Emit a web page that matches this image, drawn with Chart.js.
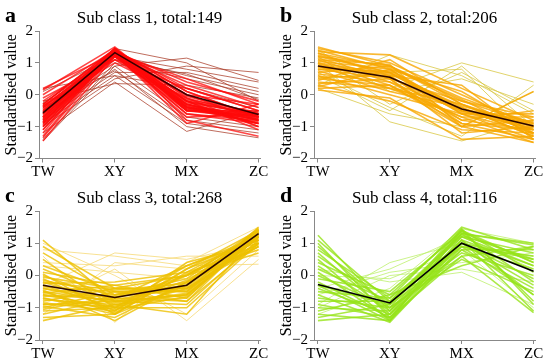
<!DOCTYPE html>
<html>
<head>
<meta charset="utf-8">
<script src="https://cdn.jsdelivr.net/npm/chart.js@4.4.0/dist/chart.umd.min.js"></script>
<style>
body{margin:0;background:#fff;}
#wrap{position:relative;width:550px;height:361px;overflow:hidden;}
.panel{position:absolute;width:275px;}
.panel canvas{position:absolute;left:0;top:0;}
.letter{position:absolute;left:5px;top:4px;font:bold 22px 'Liberation Serif',serif;line-height:22px;}
.title{position:absolute;left:39px;width:221px;top:10px;text-align:center;font:17px 'Liberation Serif',serif;line-height:16px;}
</style>
</head>
<body>
<div id="wrap">
  <div class="panel" style="left:0;top:0;height:180px"><canvas id="c1" width="275" height="180"></canvas><div class="letter">a</div><div class="title">Sub class 1, total:149</div></div>
  <div class="panel" style="left:275px;top:0;height:180px"><canvas id="c2" width="275" height="180"></canvas><div class="letter">b</div><div class="title">Sub class 2, total:206</div></div>
  <div class="panel" style="left:0;top:180px;height:181px"><canvas id="c3" width="275" height="181"></canvas><div class="letter">c</div><div class="title">Sub class 3, total:268</div></div>
  <div class="panel" style="left:275px;top:180px;height:181px"><canvas id="c4" width="275" height="181"></canvas><div class="letter">d</div><div class="title">Sub class 4, total:116</div></div>
</div>
<script>
const cats = ['TW','XY','MX','ZC'];
const yTicks = [-2,-1,0,1,2];

// sub class 1
const mean1 = [-0.57, 1.32, 0.0, -0.62];
const lines1 = [
  [-1.45,1.2,-0.4,-0.9],[-1.35,1.3,-0.2,-1.1],[-1.3,1.4,0.1,-0.7],[-1.2,1.45,-0.5,-0.6],
  [-1.1,1.35,-0.3,-0.8],[-1.0,1.4,0.2,-0.5],[-0.95,1.25,-0.6,-0.9],[-0.9,1.45,-0.1,-0.7],
  [-0.85,1.3,0.3,-0.4],[-0.8,1.4,-0.4,-0.6],[-0.75,1.2,-0.2,-1.0],[-0.7,1.35,0.0,-0.8],
  [-0.65,1.45,-0.5,-0.5],[-0.6,1.3,0.5,-0.3],[-0.55,1.1,-0.3,-0.9],[-0.5,1.4,0.1,-0.7],
  [-0.45,1.25,-0.7,-0.6],[-0.4,1.35,0.4,-0.2],[-0.35,1.0,-0.1,-1.0],[-0.3,1.45,-0.4,-0.7],
  [-0.2,1.3,-0.6,-0.8],[-0.1,1.1,0.2,-0.5],[0.0,1.4,-0.2,-0.6],[0.2,1.3,0.0,-0.3],
  [-0.7,1.45,-0.8,-1.3],[-1.1,1.3,-0.9,-0.3],[0.15,1.5,-0.3,-0.8],
  [-1.0,1.3,-0.35,-0.75],[-0.9,1.35,-0.45,-0.85],[-0.8,1.25,-0.3,-0.7],[-0.7,1.4,-0.2,-0.65],
  [-0.6,1.3,-0.4,-0.8],[-0.5,1.2,-0.25,-0.6],[-0.4,1.35,-0.5,-0.75],[-0.35,1.25,-0.15,-0.55],
  [-0.3,1.4,-0.35,-0.9],[-0.55,1.45,-0.45,-0.7],[-0.75,1.3,-0.05,-0.6],[-0.85,1.2,-0.5,-0.65]
];
const edge1 = [
  [-1.2,0.4,-1.15,-0.5],[-0.9,0.6,-0.9,-1.2],[-0.6,0.8,-1.0,-1.35],[-1.0,0.5,0.9,0.7],
  [-0.5,0.9,1.15,0.45],[-0.8,0.7,0.7,0.2],[-0.3,1.45,1.0,-0.2],[-1.4,1.0,0.5,0.0],
  [-0.2,0.35,0.3,-0.1],[0.1,1.2,0.8,0.4],[-0.25,1.2,0.6,0.1],[-1.45,0.9,-0.7,-1.0],
  [0.2,0.6,0.2,-0.4],[-1.0,1.1,0.65,-0.15],[-0.4,0.75,-0.8,-1.1]
];

// sub class 2
const mean2 = [0.9, 0.55, -0.45, -0.98];
const lines2 = [
  [1.5,0.9,-0.3,-1.2],[1.45,1.0,0.0,-1.0],[1.4,0.8,-0.6,-1.4],[1.35,1.25,0.2,-0.8],
  [1.3,0.6,-0.8,-1.1],[1.25,0.7,-0.4,-1.3],[1.2,0.9,-0.2,-0.9],[1.15,0.5,-1.0,-1.5],
  [1.1,0.4,-0.5,-1.0],[1.05,0.8,0.1,-1.2],[1.0,0.3,-0.7,-0.7],[0.95,0.6,-0.9,-1.4],
  [0.9,0.2,-0.3,-1.1],[0.85,0.7,-0.6,-0.6],[0.8,0.5,-1.2,-1.0],[0.75,0.1,-0.4,-1.3],
  [0.7,0.9,-0.1,-0.9],[0.65,0.4,-0.8,-0.5],[0.6,0.0,-0.6,-1.2],[0.55,0.6,0.3,-1.4],
  [0.5,0.3,-1.0,-0.8],[0.45,1.1,-0.3,-1.0],[0.4,0.2,-0.7,-1.5],[0.35,0.5,-0.2,-0.7],
  [0.3,-0.2,-1.1,-1.2],[0.25,0.8,-0.5,-0.9],[0.2,0.3,-0.9,-1.1],[0.15,-0.1,-1.4,-1.3],
  [1.1,0.95,-1.0,0.1],[1.2,0.7,-0.5,-1.1],[1.0,0.65,-0.35,-0.95],[0.9,0.55,-0.55,-1.05],
  [1.3,0.85,-0.15,-1.25],[0.8,0.75,-0.45,-0.85]
];
const edge2 = [
  [1.0,-0.85,-1.45,-0.8],[0.6,-0.5,0.9,-1.0],[0.9,0.2,1.0,0.4],[1.2,-0.3,0.7,-0.5],
  [0.3,1.25,0.6,-0.6],[0.2,-0.6,-1.0,0.1],[1.4,0.1,0.5,-0.3],[0.7,-0.4,-1.3,0.3],
  [0.5,0.7,0.8,-1.4]
];

// sub class 3
const mean3 = [-0.3, -0.68, -0.3, 1.3];
const lines3 = [
  [-1.4,-0.9,-0.6,1.2],[-1.3,-1.2,-0.3,1.4],[-1.2,-0.7,-0.8,1.0],[-1.1,-1.0,0.0,1.3],
  [-1.0,-0.5,-0.5,1.5],[-0.95,-1.3,-0.2,0.9],[-0.9,-0.8,-0.9,1.1],[-0.85,-1.1,0.2,1.4],
  [-0.8,-0.4,-0.4,1.2],[-0.75,-0.9,-0.7,1.35],[-0.7,-1.2,0.1,0.8],[-0.65,-0.6,-0.3,1.45],
  [-0.6,-1.0,-1.0,1.0],[-0.55,-0.3,0.0,1.3],[-0.5,-0.8,-0.6,1.2],[-0.45,-1.4,-0.2,1.4],
  [-0.4,-0.7,0.3,1.1],[-0.35,-0.5,-0.8,1.35],[-0.3,-1.0,-0.4,0.9],[-0.25,-0.2,0.1,1.25],
  [-0.2,-0.9,-1.2,1.3],[-0.15,-0.6,-0.1,1.45],[-0.1,-1.1,0.4,1.0],[-0.05,-0.4,-0.5,1.2],
  [0.0,-0.8,-0.3,1.4],[0.05,-1.2,0.2,1.1],[0.1,-0.3,-0.7,1.3],[0.2,-0.7,0.0,0.7],
  [0.3,-0.5,-0.4,1.0],[0.5,-1.0,0.3,1.2],[0.7,-0.6,-0.2,0.9],[0.9,-0.4,0.0,1.1],
  [1.1,-0.8,-0.6,1.3],[-0.6,-0.75,-0.35,1.25],[-0.9,-0.95,-0.15,1.15],[-0.4,-0.85,-0.55,1.35],
  [-1.05,-0.65,-0.45,1.05],[-0.7,-1.05,-0.65,1.2],[-0.2,-0.45,-0.25,1.4],[-0.5,-1.15,0.05,0.95]
];
const edge3 = [
  [0.8,0.6,0.3,0.35],[-0.3,0.7,0.5,1.0],[0.4,0.3,0.6,0.6],[-0.9,0.2,-1.4,0.5],
  [1.0,0.0,-1.2,0.8],[-1.2,0.4,0.2,1.2],[0.6,-1.45,0.4,1.5],[0.3,0.1,-0.1,0.8]
];

// sub class 4
const mean4 = [-0.28, -0.85, 1.0, 0.13];
const lines4 = [
  [-1.4,-1.2,1.0,0.5],[-1.3,-0.9,1.3,-0.2],[-1.2,-1.4,0.8,0.8],[-1.1,-0.6,1.4,0.1],
  [-1.0,-1.1,1.1,-0.6],[-0.9,-1.3,0.6,0.9],[-0.8,-0.8,1.2,0.3],[-0.7,-1.0,1.45,-0.9],
  [-0.6,-1.45,0.9,0.6],[-0.5,-0.7,1.0,-0.3],[-0.4,-1.2,1.3,1.0],[-0.3,-0.9,0.7,0.0],
  [-0.2,-1.3,1.1,-1.1],[-0.1,-0.5,1.35,0.4],[0.0,-1.0,0.5,-0.5],[0.1,-1.35,1.2,0.7],
  [0.2,-0.8,0.9,0.2],[0.3,-1.1,1.4,-0.8],[0.4,-0.6,0.3,0.9],[0.5,-1.4,1.0,-0.1],
  [0.6,-0.9,1.25,0.5],[0.7,-1.2,0.8,-0.4],[0.8,-0.7,1.5,0.8],[0.9,-1.0,0.6,-1.15],
  [1.0,-1.3,1.1,0.3],[1.1,-0.8,1.3,0.95],[1.25,-1.1,0.9,-0.6],[-0.3,-1.4,1.4,0.4]
];
const edge4 = [
  [-0.9,0.4,1.0,0.6],[-0.4,0.2,1.2,0.2],[-1.0,0.0,0.2,-0.2],[0.2,-0.2,0.1,-0.9],
  [-0.6,0.1,0.4,0.7],[-1.2,-0.4,1.45,1.0],[0.0,-0.1,0.8,-1.0]
];

const toPts = (arr)=>arr.map((v,i)=>({x:i,y:v}));

function makeChart(id, lines, edge, mean, color, edgeColor, meanColor, axisH){
  let ds = [];
  ds.push({data:toPts(mean), borderColor:meanColor, borderWidth:1.6, order:0});
  edge.forEach(l=>ds.push({data:toPts(l), borderColor:edgeColor, borderWidth:1, order:2}));
  lines.forEach(l=>ds.push({data:toPts(l), borderColor:color, borderWidth:1.6, order:1}));
  new Chart(document.getElementById(id), {
    type:'line',
    data:{datasets:ds},
    options:{
      responsive:false,
      animation:false,
      devicePixelRatio:1,
      layout:{padding:{left:0,right:15,top:31,bottom:0}},
      elements:{point:{radius:0}, line:{tension:0}},
      plugins:{legend:{display:false}, tooltip:{enabled:false}},
      scales:{
        x:{
          type:'linear', min:-0.055, max:3.02,
          afterBuildTicks:(s)=>{ s.ticks = cats.map((c,i)=>({value:i})); },
          afterFit:(s)=>{ s.height = axisH; },
          ticks:{callback:(v)=>cats[v], color:'#000', padding:1, maxRotation:0, font:{family:'Liberation Serif', size:15}},
          grid:{drawOnChartArea:false, tickLength:4, color:'#888'},
          border:{color:'#888'}
        },
        y:{
          min:-2, max:2,
          afterBuildTicks:(s)=>{ s.ticks = yTicks.map(v=>({value:v})); },
          afterFit:(s)=>{ s.width = 39; },
          ticks:{callback:(v)=>v<0 ? '\u2212'+Math.abs(v) : ''+v, color:'#000', padding:2, font:{family:'Liberation Serif', size:15}},
          grid:{drawOnChartArea:false, tickLength:4, color:'#888'},
          border:{color:'#888'},
          title:{display:true, text:'Standardised value', color:'#000', padding:{top:2,bottom:0}, font:{family:'Liberation Serif', size:16}}
        }
      }
    }
  });
}

makeChart('c1', lines1, edge1, mean1, 'rgba(255,10,10,0.75)', 'rgba(170,60,40,0.75)', '#3a0000', 21.5);
makeChart('c2', lines2, edge2, mean2, 'rgba(248,168,0,0.8)', 'rgba(218,200,70,0.8)', '#2a0600', 21.5);
makeChart('c3', lines3, edge3, mean3, 'rgba(238,192,0,0.8)', 'rgba(245,215,110,0.75)', '#2a0800', 21);
makeChart('c4', lines4, edge4, mean4, 'rgba(150,228,25,0.8)', 'rgba(190,240,110,0.8)', '#000000', 21);
</script>
</body>
</html>
